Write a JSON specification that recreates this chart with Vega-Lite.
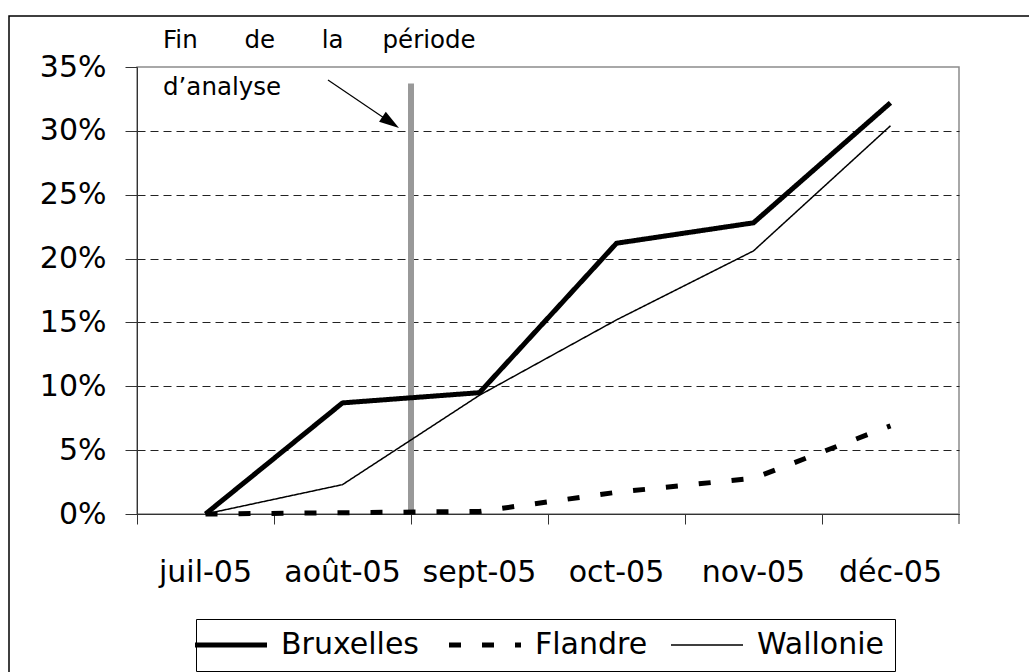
{
  "$schema": "https://vega.github.io/schema/vega-lite/v6.json",
  "width": 822,
  "height": 447,
  "autosize": {"type": "none"},
  "padding": {"left": 137, "top": 67, "right": 70, "bottom": 158},
  "background": "white",
  "config": {
    "font": "DejaVu Sans",
    "view": {"stroke": "#8c8c8c", "strokeWidth": 1.5}
  },
  "datasets": {
    "taux": [
      {"mois": "juil-05", "region": "Bruxelles", "taux": 0.0},
      {"mois": "août-05", "region": "Bruxelles", "taux": 0.087},
      {"mois": "sept-05", "region": "Bruxelles", "taux": 0.095},
      {"mois": "oct-05", "region": "Bruxelles", "taux": 0.212},
      {"mois": "nov-05", "region": "Bruxelles", "taux": 0.228},
      {"mois": "déc-05", "region": "Bruxelles", "taux": 0.322},
      {"mois": "juil-05", "region": "Flandre", "taux": 0.0},
      {"mois": "août-05", "region": "Flandre", "taux": 0.001},
      {"mois": "sept-05", "region": "Flandre", "taux": 0.002},
      {"mois": "oct-05", "region": "Flandre", "taux": 0.017},
      {"mois": "nov-05", "region": "Flandre", "taux": 0.028},
      {"mois": "déc-05", "region": "Flandre", "taux": 0.069},
      {"mois": "juil-05", "region": "Wallonie", "taux": 0.0},
      {"mois": "août-05", "region": "Wallonie", "taux": 0.023},
      {"mois": "sept-05", "region": "Wallonie", "taux": 0.093},
      {"mois": "oct-05", "region": "Wallonie", "taux": 0.152},
      {"mois": "nov-05", "region": "Wallonie", "taux": 0.206},
      {"mois": "déc-05", "region": "Wallonie", "taux": 0.304}
    ]
  },
  "layer": [
    {
      "data": {"values": [{}]},
      "mark": {"type": "rect", "filled": false, "stroke": "black", "strokeWidth": 1.5, "x": -128, "y": -51, "x2": 1000, "y2": 700},
      "encoding": {}
    },
    {
      "data": {"values": [{}]},
      "mark": {"type": "rule", "color": "#999999", "strokeWidth": 6},
      "encoding": {
        "x": {"datum": 2, "type": "quantitative", "scale": {"domain": [0, 6], "nice": false, "zero": false}, "axis": null},
        "y": {"datum": 0.337, "type": "quantitative", "scale": {"domain": [0, 0.35], "nice": false}, "axis": {"title": null}},
        "y2": {"datum": 0}
      }
    },
    {
      "data": {"name": "taux"},
      "mark": {"type": "line", "color": "black", "strokeJoin": "round"},
      "encoding": {
        "x": {
          "field": "mois",
          "type": "nominal",
          "sort": ["juil-05", "août-05", "sept-05", "oct-05", "nov-05", "déc-05"],
          "bandPosition": 0.5,
          "scale": {"type": "band", "paddingInner": 0, "paddingOuter": 0},
          "axis": {
            "title": null, "bandPosition": 0, "labelPadding": 33, "labelAngle": 0, "labelOverlap": false, "labelBound": false,
            "tickSize": 10, "tickColor": "#333333", "domainColor": "#333333",
            "labelFont": "DejaVu Sans", "labelFontSize": 30, "labelColor": "black", "grid": false
          }
        },
        "y": {
          "field": "taux",
          "type": "quantitative",
          "scale": {"domain": [0, 0.35], "nice": false},
          "axis": {
            "title": null,
            "values": [0, 0.05, 0.1, 0.15, 0.2, 0.25, 0.3, 0.35],
            "format": ".0%",
            "tickSize": 12, "tickColor": "#333333", "domainColor": "#333333",
            "labelPadding": 19, "labelFont": "DejaVu Sans", "labelFontSize": 30, "labelColor": "black",
            "grid": true, "gridDash": [8, 5], "gridColor": "#222222",
            "gridOpacity": {"condition": {"test": "datum.value > 0.34", "value": 0}, "value": 1}
          }
        },
        "strokeWidth": {"condition": {"test": "datum.region === 'Wallonie'", "value": 1.5}, "value": 5},
        "strokeDash": {
          "field": "region",
          "type": "nominal",
          "scale": {"domain": ["Bruxelles", "Flandre", "Wallonie"], "range": [[1, 0], [12, 21], [1, 0]]},
          "legend": {
            "title": null, "orient": "none", "legendX": 59, "legendY": 552, "direction": "horizontal",
            "strokeColor": "black", "fillColor": "white", "padding": 11,
            "symbolType": "M-3,0L3,0", "symbolSize": 576, "symbolStrokeColor": "black", "symbolOffset": 9,
            "labelFont": "DejaVu Sans", "labelFontSize": 30, "labelColor": "black", "labelOffset": 35, "columnPadding": 20,
            "encode": {"symbols": {"update": {"strokeWidth": {"signal": "datum.value === 'Wallonie' ? 1.5 : 5"}}}}
          }
        }
      }
    },
    {
      "data": {"values": [{}]},
      "mark": {"type": "rule", "color": "black", "strokeWidth": 1.2},
      "encoding": {
        "x": {"datum": 1.394, "type": "quantitative", "scale": {"domain": [0, 6], "nice": false, "zero": false}, "axis": null},
        "y": {"datum": 0.3398, "type": "quantitative", "scale": {"domain": [0, 0.35], "nice": false}, "axis": {"title": null}},
        "x2": {"datum": 1.852},
        "y2": {"datum": 0.3066}
      }
    },
    {
      "data": {"values": [{}]},
      "mark": {"type": "point", "filled": true, "color": "black", "opacity": 1, "shape": "M0,-1L0.6,1L-0.6,1Z", "size": 400, "angle": 124},
      "encoding": {
        "x": {"datum": 1.852, "type": "quantitative", "scale": {"domain": [0, 6], "nice": false, "zero": false}, "axis": null},
        "y": {"datum": 0.3066, "type": "quantitative", "scale": {"domain": [0, 0.35], "nice": false}, "axis": {"title": null}}
      }
    },
    {
      "data": {"values": [{}]},
      "mark": {"type": "text", "text": "Fin\u00a0\u00a0\u00a0\u00a0\u00a0\u00a0de\u00a0\u00a0\u00a0\u00a0\u00a0\u00a0la\u00a0\u00a0\u00a0\u00a0\u00a0période", "align": "left", "baseline": "alphabetic", "font": "DejaVu Sans", "fontSize": 24.5, "color": "black"},
      "encoding": {
        "x": {"datum": 0.19, "type": "quantitative", "scale": {"domain": [0, 6], "nice": false, "zero": false}, "axis": null},
        "y": {"datum": 0.3646, "type": "quantitative", "scale": {"domain": [0, 0.35], "nice": false}, "axis": {"title": null}}
      }
    },
    {
      "data": {"values": [{}]},
      "mark": {"type": "text", "text": "d’analyse", "align": "left", "baseline": "alphabetic", "font": "DejaVu Sans", "fontSize": 24.5, "color": "black"},
      "encoding": {
        "x": {"datum": 0.19, "type": "quantitative", "scale": {"domain": [0, 6], "nice": false, "zero": false}, "axis": null},
        "y": {"datum": 0.3281, "type": "quantitative", "scale": {"domain": [0, 0.35], "nice": false}, "axis": {"title": null}}
      }
    },
    {
      "data": {"values": [{}]},
      "mark": {"type": "rule", "color": "#333333", "strokeWidth": 1},
      "encoding": {
        "x": {"datum": 6, "type": "quantitative", "scale": {"domain": [0, 6], "nice": false, "zero": false}, "axis": null},
        "y": {"datum": 0, "type": "quantitative", "scale": {"domain": [0, 0.35], "nice": false}, "axis": {"title": null}},
        "y2": {"datum": -0.0078}
      }
    }
  ],
  "resolve": {"scale": {"x": "independent"}}
}
